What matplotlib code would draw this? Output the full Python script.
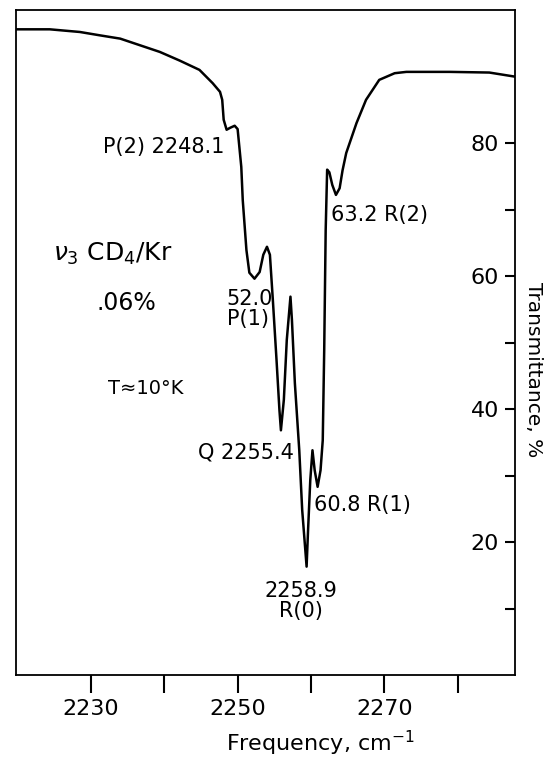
import numpy as np
import matplotlib
matplotlib.use('Agg')
import matplotlib.pyplot as plt

plt.rcParams['font.family'] = ['DejaVu Sans']

# spectrum (frequency in cm^-1, transmittance in %)
freq = [2219.8, 2224.4, 2228.5, 2231.2, 2234.0, 2236.7, 2239.4, 2242.1, 2244.8,
        2246.6, 2247.6, 2247.9, 2248.1, 2248.5, 2249.0, 2249.6, 2250.0, 2250.5,
        2250.7, 2251.2, 2251.6, 2252.3, 2253.0, 2253.5, 2254.0, 2254.4, 2254.8,
        2255.3, 2255.7, 2255.9, 2256.3, 2256.7, 2257.2, 2257.4, 2257.8, 2258.4,
        2258.8, 2259.4, 2259.6, 2259.9, 2260.2, 2260.5, 2260.9, 2261.3, 2261.6,
        2261.8, 2262.0, 2262.2, 2262.5, 2262.9, 2263.4, 2263.9, 2264.3, 2264.8,
        2266.2, 2267.5, 2269.3, 2271.4, 2273.0, 2278.9, 2284.3, 2287.7]
trans = [97.1, 97.1, 96.7, 96.2, 95.7, 94.7, 93.7, 92.4, 91.0,
         89.0, 87.7, 86.5, 83.5, 82.0, 82.3, 82.6, 82.1, 76.4,
         71.4, 63.9, 60.5, 59.6, 60.6, 63.2, 64.4, 63.2, 56.4,
         47.4, 39.8, 36.8, 41.4, 50.4, 56.9, 53.4, 43.9, 33.8,
         24.8, 16.3, 21.8, 29.3, 33.8, 30.8, 28.3, 30.8, 35.3,
         48.9, 66.9, 76.0, 75.6, 73.7, 72.2, 73.2, 75.9, 78.5,
         83.0, 86.5, 89.5, 90.5, 90.7, 90.7, 90.6, 90.0]

xticks = [2230, 2240, 2250, 2260, 2270, 2280]
xlabels = ['2230', '', '2250', '', '2270', '']
yticks = [10, 20, 30, 40, 50, 60, 70, 80]
ylabels = ['', '20', '', '40', '', '60', '', '80']

fig = plt.figure(figsize=(5.48, 7.6), dpi=100)
ax = fig.add_axes([0.0292, 0.1118, 0.9106, 0.875])

ax.plot(freq, trans, color='black', lw=1.8, solid_joinstyle='round')
ax.set_xlim(2219.8, 2287.8)
ax.set_ylim(0, 100)

for s in ax.spines.values():
    s.set_linewidth(1.3)

ax.set_xticks(xticks)
ax.set_xticklabels(xlabels)
ax.tick_params(axis='x', direction='out', length=13, width=1.5,
               labelsize=16, pad=4)

ax.yaxis.tick_right()
ax.set_yticks(yticks)
ax.set_yticklabels(ylabels)
ax.tick_params(axis='y', direction='in', length=7, width=1.5,
               labelsize=16, pad=-11.5, left=False, labelleft=False)
for lbl in ax.get_yticklabels():
    lbl.set_horizontalalignment('right')

ax.text(0.609, -0.1026, 'Frequency, cm$^{-1}$', transform=ax.transAxes,
        ha='center', va='center', fontsize=16)
ax.text(1.038, 0.459, 'Transmittance, %', transform=ax.transAxes,
        ha='center', va='center', rotation=-90, fontsize=14.5)

fs = 15
ax.text(2248.2, 79.4, 'P(2) 2248.1', ha='right', va='center', fontsize=fs)
ax.text(2262.75, 69.2, '63.2 R(2)', ha='left', va='center', fontsize=fs)
ax.text(2224.9, 63.3, r'$\nu_3$ CD$_4$/Kr', ha='left', va='center', fontsize=18)
ax.text(2230.8, 56.0, '.06%', ha='left', va='center', fontsize=17)
ax.text(2232.3, 43.1, 'T≈10°K', ha='left', va='center', fontsize=14)
ax.text(2248.5, 55.0, '52.0\nP(1)', ha='left', va='center', fontsize=fs,
        linespacing=1.0)
ax.text(2257.6, 33.5, 'Q 2255.4', ha='right', va='center', fontsize=fs)
ax.text(2260.4, 25.6, '60.8 R(1)', ha='left', va='center', fontsize=fs)
ax.text(2258.6, 11.1, '2258.9\nR(0)', ha='center', va='center', fontsize=fs,
        linespacing=1.0)

fig.savefig('out.png', dpi=100)
